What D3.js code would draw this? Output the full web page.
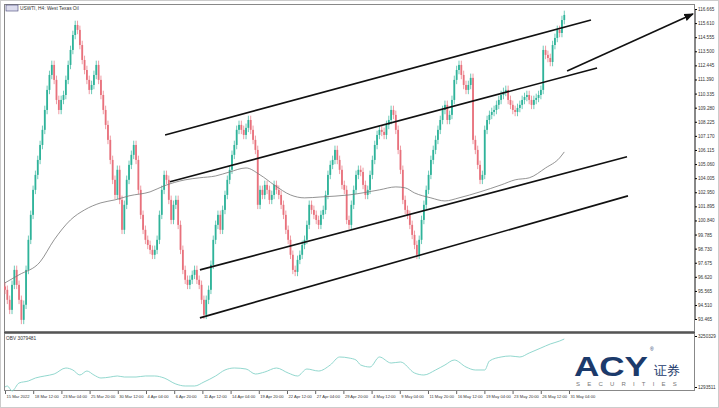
<!DOCTYPE html>
<html><head><meta charset="utf-8">
<script src="https://cdn.jsdelivr.net/npm/d3@7"></script>
<style>body{margin:0;background:#fff}svg{display:block}text{font-family:"Liberation Sans",Arial,sans-serif}</style>
</head><body>
<script>
const closes=[95.65,94.90,94.15,96.02,97.14,96.02,94.90,93.40,94.53,97.14,99.39,101.26,103.13,104.25,105.37,106.49,107.62,109.11,110.61,111.73,112.48,111.36,109.86,109.11,109.86,110.23,111.36,112.48,113.60,114.72,115.47,115.10,113.97,112.85,112.10,
111.36,110.61,110.98,111.73,112.48,111.36,110.23,109.11,107.99,106.87,105.37,103.88,102.75,104.63,102.38,100.14,102.01,103.88,105.00,105.75,106.49,105.37,103.13,101.26,100.14,
99.39,99.01,98.64,98.27,98.64,99.39,101.26,103.13,104.25,103.88,102.38,100.88,102.01,102.38,100.51,98.64,97.14,96.40,96.02,96.40,96.77,97.14,96.40,96.02,94.90,93.78,
94.90,95.65,97.52,99.39,100.51,101.26,100.14,101.63,102.75,103.88,104.63,105.75,106.49,107.62,107.99,107.62,107.24,107.77,108.36,107.62,106.87,106.12,
102.01,103.13,102.75,103.50,103.13,102.38,102.75,103.50,103.13,102.75,102.01,101.26,100.14,99.39,98.27,97.14,96.99,97.89,98.27,
99.01,99.39,100.51,102.01,101.63,101.26,100.88,100.51,101.26,101.63,102.75,104.25,105.00,105.37,106.12,105.37,104.63,103.50,103.13,100.88,100.51,102.01,103.13,
104.25,104.63,104.47,103.50,102.75,103.13,104.25,105.37,106.49,107.24,107.62,107.47,107.24,107.99,108.36,109.11,108.74,107.62,106.12,104.63,102.38,101.63,101.26,100.51,99.76,99.01,98.27,99.39,100.88,
102.01,103.13,104.25,105.37,106.12,106.87,107.62,108.36,109.11,109.49,108.36,108.74,109.86,111.36,112.10,112.48,111.73,110.98,110.61,110.98,111.51,106.87,
106.12,105.00,103.88,104.25,107.62,108.36,108.74,108.96,109.11,109.49,109.86,110.23,110.46,110.61,109.86,109.49,109.11,108.96,109.26,109.49,109.86,110.08,110.23,109.86,109.49,109.86,110.01,110.23,110.61,113.60,113.23,113.00,112.70,113.97,114.50,115.10,114.87,115.84,116.22];
const firstOpen=95.9;
const wick=0.32;
const maPts=[[0,96.17],[6,96.77],[15,97.74],[21,99.39],[28,100.88],[34,101.63],[41,102.16],[47,102.38],[53,102.68],[62,102.98],[68,103.43],[77,103.88],[83,104.03],[90,104.17],[96,104.47],[103,104.77],[109,104.25],[115,103.50],[122,102.75],[128,102.53],[135,102.60],[147,102.75],[160,103.13],[167,103.35],[171,103.28],[175,102.90],[182,102.53],[188,102.30],[194,102.53],[203,102.98],[212,103.50],[218,103.88],[224,104.03],[231,104.77],[237,105.52],[239,105.97]];
const trendLines=[[[68.4,107.24],[250.4,115.84]],[[70.5,103.73],[253,112.25]],[[83.3,97.14],[265.8,105.60]],[[83.3,93.55],[266.2,102.68]]];
const arrowLine=[[240.2,112.03],[294,116.29]];
const priceTicks=[116.665,115.610,114.555,113.500,112.445,111.390,110.335,109.280,108.225,107.170,106.115,105.060,104.005,102.950,101.895,100.840,99.785,98.730,97.675,96.620,95.565,94.510,93.465];
const dateLabels=["15 Mar 2022","18 Mar 12:00","23 Mar 04:00","25 Mar 20:00","30 Mar 12:00","4 Apr 04:00","6 Apr 20:00","11 Apr 12:00","14 Apr 04:00","19 Apr 20:00","22 Apr 12:00","27 Apr 04:00","29 Apr 20:00","4 May 12:00","9 May 04:00","11 May 20:00","16 May 12:00","19 May 04:00","23 May 20:00","26 May 12:00","31 May 04:00"];
const dateStep=12.05;
const obvPts=[[0,1294],[1,1332],[3,1140],[6,1447],[10,1524],[13,1639],[17,1716],[21,1792],[26,2022],[29,1946],[32,1754],[35,1907],[38,1754],[41,1639],[45,1677],[48,1716],[51,1677],[56,1677],[60,1716],[64,1716],[68,1639],[73,1409],[77,1332],[81,1332],[85,1485],[90,1716],[94,1946],[98,2022],[103,1984],[107,1792],[111,1869],[116,2022],[121,1831],[125,1716],[129,1984],[134,1907],[139,2138],[143,2445],[147,2406],[150,2329],[152,2138],[156,2061],[160,2445],[165,2214],[169,2253],[175,1831],[179,1754],[184,1946],[188,2138],[192,2329],[197,2061],[201,1946],[205,1946],[207,2291],[212,2445],[216,2483],[220,2445],[224,2598],[229,2790],[233,2943],[237,3058],[239,3135]];
const obvTicks=[3250.329,1293.511];

const W=719,H=408;
const svg=d3.select("body").append("svg").attr("width",W).attr("height",H);
const x=d3.scaleLinear().domain([0,294]).range([5,693]);
const y=d3.scaleLinear().domain([93.465,116.665]).range([319,9]);
const yo=d3.scaleLinear().domain([1293.511,3250.329]).range([387,336]);
svg.append("rect").attr("x",0.5).attr("y",0.5).attr("width",W-1).attr("height",H-1).attr("fill","#fff").attr("stroke","#ccc");
svg.append("rect").attr("x",4.5).attr("y",4.5).attr("width",690).attr("height",327).attr("fill","none").attr("stroke","#888");
svg.append("rect").attr("x",4.5).attr("y",333.5).attr("width",690).attr("height",57).attr("fill","none").attr("stroke","#888");
svg.append("line").attr("x1",4).attr("x2",695).attr("y1",332.5).attr("y2",332.5).attr("stroke","#555").attr("stroke-width",1.5);

const bars=closes.map((c,i)=>{const o=i?closes[i-1]:firstOpen;return {i,o,c,h:Math.max(o,c)+wick,l:Math.min(o,c)-wick};});
const g=svg.append("g");
bars.forEach(b=>{const col=b.c>=b.o?"#2fb39a":"#e8717c";
 g.append("line").attr("x1",x(b.i)).attr("x2",x(b.i)).attr("y1",y(b.h)).attr("y2",y(b.l)).attr("stroke",col).attr("stroke-width",0.7);
 g.append("rect").attr("x",x(b.i)-0.9).attr("width",1.8).attr("y",y(Math.max(b.o,b.c))).attr("height",Math.max(0.6,Math.abs(y(b.o)-y(b.c)))).attr("fill",col);
});
svg.append("path").attr("d",d3.line().x(d=>x(d[0])).y(d=>y(d[1])).curve(d3.curveMonotoneX)(maPts)).attr("fill","none").attr("stroke","#777").attr("stroke-width",0.8);
trendLines.forEach(l=>svg.append("line").attr("x1",x(l[0][0])).attr("y1",y(l[0][1])).attr("x2",x(l[1][0])).attr("y2",y(l[1][1])).attr("stroke","#111").attr("stroke-width",1.6));
svg.append("defs").append("marker").attr("id","ah").attr("viewBox","0 0 10 10").attr("refX",9).attr("refY",5).attr("markerWidth",6).attr("markerHeight",6).attr("orient","auto").append("path").attr("d","M0,1L10,5L0,9z").attr("fill","#111");
svg.append("line").attr("x1",x(arrowLine[0][0])).attr("y1",y(arrowLine[0][1])).attr("x2",x(arrowLine[1][0])).attr("y2",y(arrowLine[1][1])).attr("stroke","#111").attr("stroke-width",1.6).attr("marker-end","url(#ah)");

const ax=svg.append("g").attr("transform","translate(695,0)").call(d3.axisRight(y).tickValues(priceTicks).tickSize(2).tickFormat(d3.format(".3f")));
ax.select(".domain").attr("stroke","#888");
ax.selectAll("text").attr("font-size",4.6).attr("fill","#333").attr("x",3);
const ax2=svg.append("g").attr("transform","translate(695,0)").call(d3.axisRight(yo).tickValues(obvTicks).tickSize(2).tickFormat(d=>Math.round(d*1000)));
ax2.select(".domain").remove();
ax2.selectAll("text").attr("font-size",4.6).attr("fill","#333").attr("x",3);
const xb=svg.append("g").attr("transform","translate(0,391)").call(d3.axisBottom(x).tickValues(dateLabels.map((d,i)=>i*dateStep)).tickSize(3).tickFormat((d,i)=>dateLabels[i]));
xb.select(".domain").remove();
xb.selectAll("line").attr("stroke","#666");
xb.selectAll("text").attr("font-size",4.1).attr("fill","#333").attr("text-anchor","start").attr("x",1).attr("y",4);

svg.append("path").attr("d",d3.line().x(d=>x(d[0])).y(d=>yo(d[1])).curve(d3.curveMonotoneX)(obvPts)).attr("fill","none").attr("stroke","#86d3c8").attr("stroke-width",0.9);
svg.append("text").attr("x",6).attr("y",340).attr("font-size",4.8).attr("fill","#333").text("OBV 3079481");
svg.append("rect").attr("x",6).attr("y",5).attr("width",12).attr("height",6).attr("fill","#dde").attr("stroke","#447").attr("stroke-width",0.6);
svg.append("text").attr("x",20).attr("y",10).attr("font-size",4.8).attr("fill","#333").text("USWTI, H4:  West Texas Oil");
const lg=svg.append("g");
lg.append("text").attr("x",574).attr("y",376).attr("font-size",28).attr("font-weight",900).attr("fill","#1c3a6b").attr("textLength",74).attr("lengthAdjust","spacingAndGlyphs").attr("font-family","'DejaVu Sans',sans-serif").text("ACY");
lg.append("text").attr("x",650).attr("y",351).attr("font-size",5).attr("fill","#1c3a6b").text("®");
lg.append("text").attr("x",654).attr("y",375).attr("font-size",13).attr("fill","#1c3a6b").attr("font-family","'Noto Sans CJK SC'").text("证券");
lg.append("text").attr("x",576).attr("y",386).attr("font-size",6).attr("fill","#777").attr("letter-spacing",7.2).text("SECURITIES");
</script></body></html>
